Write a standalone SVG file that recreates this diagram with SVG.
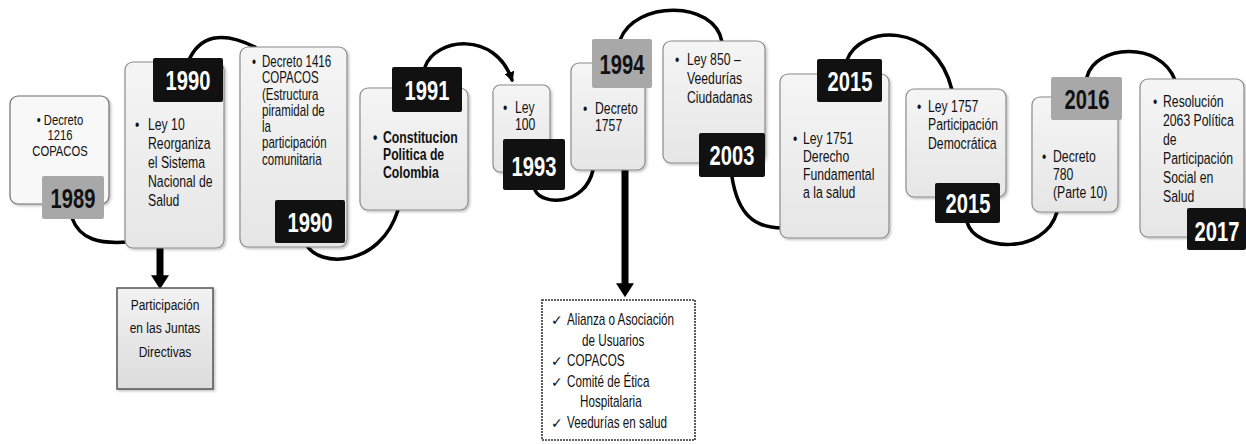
<svg xmlns="http://www.w3.org/2000/svg" width="1246" height="444" viewBox="0 0 1246 444">
<style>
.bx{fill:url(#gb);stroke:#8c8c8c;stroke-width:1.2;filter:url(#sh)}
.b1{fill:#f8f8f8;stroke:#6e6e6e;stroke-width:1.2;filter:url(#sh)}
.yb{fill:#111}
.yg{fill:#a8a8a8}
.t{font-family:"Liberation Sans",Arial,sans-serif;font-size:17px;fill:#111}
.s16{font-size:16px}
.s15{font-size:15px}
.bd{font-weight:bold}
.yt{font-family:"Liberation Sans",Arial,sans-serif;font-weight:bold;font-size:28px;text-anchor:middle}
.w{fill:#fff}
.k{fill:#111}
.c{fill:none;stroke:#000;stroke-width:3.5;stroke-linecap:round}
.ta{fill:none;stroke:#000;stroke-width:7}
.ca{font-family:"Liberation Sans",Arial,sans-serif;font-size:15px;fill:#111}
.cb{font-family:"Liberation Sans",Arial,sans-serif;font-size:16px;fill:#111}
.ck{font-family:"DejaVu Sans",sans-serif;font-size:14px;fill:#111}
</style>
<defs>
<linearGradient id="gb" x1="0" y1="0" x2="0" y2="1"><stop offset="0" stop-color="#f5f5f5"/><stop offset="1" stop-color="#e6e6e6"/></linearGradient>
<linearGradient id="ga" x1="0" y1="0" x2="0" y2="1"><stop offset="0" stop-color="#f2f2f2"/><stop offset="1" stop-color="#dcdcdc"/></linearGradient>
<filter id="sh" x="-10%" y="-10%" width="130%" height="130%"><feDropShadow dx="1.5" dy="1.5" stdDeviation="1.2" flood-color="#000" flood-opacity="0.25"/></filter>
<marker id="ah" viewBox="0 0 10 10" refX="8" refY="5" markerWidth="10" markerHeight="10" markerUnits="userSpaceOnUse" orient="auto"><path d="M0,0 L10,5 L0,10 z" fill="#000"/></marker>
<marker id="bh" viewBox="0 0 10 10" refX="2" refY="5" markerWidth="14" markerHeight="18" markerUnits="userSpaceOnUse" orient="auto" preserveAspectRatio="none"><path d="M0,0 L10,5 L0,10 z" fill="#000"/></marker>
</defs>
<rect width="1246" height="444" fill="#fff"/>

<g id="connectors">
<path class="c" d="M72 218 C80 240 100 244 128 242"/>
<path class="c" d="M188 62 Q205 22 255 47"/>
<path class="c" d="M306 244 C318 268 380 268 398 210"/>
<path class="c" d="M425 67 C435 38 495 30 512 80" marker-end="url(#ah)"/>
<path class="c" d="M535 190 C542 206 585 206 593 170"/>
<path class="c" d="M620 40 C635 0 715 0 722 42"/>
<path class="c" d="M732 177 C738 215 755 228 782 228"/>
<path class="c" d="M847 60 C860 25 935 20 952 90"/>
<path class="c" d="M967 222 C975 252 1045 255 1057 212"/>
<path class="c" d="M1087 77 C1095 45 1160 40 1175 80"/>
<path class="ta" d="M160 248 L160 278" marker-end="url(#bh)"/>
<path class="ta" d="M625 170 L625 286" marker-end="url(#bh)"/>
</g>

<g id="n1989">
<rect class="b1" x="10" y="96" width="99" height="108" rx="8"/>
<text class="t s15" text-anchor="middle" transform="translate(60,125) scale(0.75,1)">• Decreto<tspan x="0" dy="15.5">1216</tspan><tspan x="0" dy="15.5">COPACOS</tspan></text>
<rect class="yg" x="42" y="176" width="62" height="43" rx="2"/>
<text class="yt k" transform="translate(73,207.5) scale(0.72,1)">1989</text>
</g>

<g id="n1990a">
<rect class="bx" x="125" y="62" width="99" height="186" rx="8"/>
<text class="t" transform="translate(135,130) scale(0.72,1)">•</text>
<text class="t" transform="translate(148,130) scale(0.72,1)">Ley 10<tspan x="0" dy="19">Reorganiza</tspan><tspan x="0" dy="19">el Sistema</tspan><tspan x="0" dy="19">Nacional de</tspan><tspan x="0" dy="19">Salud</tspan></text>
<rect class="yb" x="153" y="58" width="70" height="44" rx="2"/>
<text class="yt w" transform="translate(188,90) scale(0.72,1)">1990</text>
</g>

<g id="n1990b">
<rect class="bx" x="240" y="47" width="107" height="200" rx="8"/>
<text class="t s16" transform="translate(252,67) scale(0.72,1)">•</text>
<text class="t s16" transform="translate(262,67) scale(0.72,1)">Decreto 1416<tspan x="0" dy="16.3">COPACOS</tspan><tspan x="0" dy="16.3">(Estructura</tspan><tspan x="0" dy="16.3">piramidal de</tspan><tspan x="0" dy="16.3">la</tspan><tspan x="0" dy="16.3">participación</tspan><tspan x="0" dy="16.3">comunitaria</tspan></text>
<rect class="yb" x="275" y="200" width="70" height="43" rx="2"/>
<text class="yt w" transform="translate(310,232) scale(0.72,1)">1990</text>
</g>

<g id="n1991">
<rect class="bx" x="360" y="88" width="108" height="122" rx="8"/>
<text class="t bd" transform="translate(373,143) scale(0.72,1)">•</text>
<text class="t bd" transform="translate(383,143) scale(0.72,1)">Constitucion<tspan x="0" dy="17.5">Politica de</tspan><tspan x="0" dy="17.5">Colombia</tspan></text>
<rect class="yb" x="392" y="67" width="70" height="45" rx="2"/>
<text class="yt w" transform="translate(427,99.5) scale(0.72,1)">1991</text>
</g>

<g id="n1993">
<rect class="bx" x="493" y="85" width="57" height="87" rx="7"/>
<text class="t" transform="translate(503,113) scale(0.72,1)">•</text>
<text class="t" transform="translate(515,113) scale(0.72,1)">Ley<tspan x="0" dy="17">100</tspan></text>
<rect class="yb" x="503" y="139" width="62" height="51" rx="2"/>
<text class="yt w" transform="translate(534,176) scale(0.72,1)">1993</text>
</g>

<g id="n1994">
<rect class="bx" x="571" y="63" width="74" height="107" rx="8"/>
<text class="t" transform="translate(583,114) scale(0.72,1)">•</text>
<text class="t" transform="translate(595,114) scale(0.72,1)">Decreto<tspan x="0" dy="17">1757</tspan></text>
<rect class="yg" x="592" y="39" width="60" height="49" rx="2"/>
<text class="yt k" transform="translate(622,73.5) scale(0.72,1)">1994</text>
</g>

<g id="n2003">
<rect class="bx" x="663" y="41" width="102" height="122" rx="8"/>
<text class="t" transform="translate(675,65) scale(0.72,1)">•</text>
<text class="t" transform="translate(687,65) scale(0.72,1)">Ley 850 –<tspan x="0" dy="19">Veedurías</tspan><tspan x="0" dy="19">Ciudadanas</tspan></text>
<rect class="yb" x="699" y="133" width="66" height="44" rx="2"/>
<text class="yt w" transform="translate(732,165) scale(0.72,1)">2003</text>
</g>

<g id="n2015a">
<rect class="bx" x="780" y="74" width="109" height="164" rx="8"/>
<text class="t" transform="translate(793,144) scale(0.72,1)">•</text>
<text class="t" transform="translate(803,144) scale(0.72,1)">Ley 1751<tspan x="0" dy="18">Derecho</tspan><tspan x="0" dy="18">Fundamental</tspan><tspan x="0" dy="18">a la salud</tspan></text>
<rect class="yb" x="817" y="59" width="65" height="43" rx="2"/>
<text class="yt w" transform="translate(850,90.5) scale(0.72,1)">2015</text>
</g>

<g id="n2015b">
<rect class="bx" x="906" y="89" width="100" height="108" rx="8"/>
<text class="t" transform="translate(917,112) scale(0.72,1)">•</text>
<text class="t" transform="translate(928,112) scale(0.72,1)">Ley 1757<tspan x="0" dy="18.5">Participación</tspan><tspan x="0" dy="18.5">Democrática</tspan></text>
<rect class="yb" x="935" y="183" width="65" height="40" rx="2"/>
<text class="yt w" transform="translate(968,213) scale(0.72,1)">2015</text>
</g>

<g id="n2016">
<rect class="bx" x="1032" y="97" width="86" height="115" rx="8"/>
<text class="t" transform="translate(1042,162) scale(0.72,1)">•</text>
<text class="t" transform="translate(1053,162) scale(0.72,1)">Decreto<tspan x="0" dy="18">780</tspan><tspan x="0" dy="18">(Parte 10)</tspan></text>
<rect class="yg" x="1051" y="77" width="71" height="43" rx="2"/>
<text class="yt k" transform="translate(1087,108.5) scale(0.72,1)">2016</text>
</g>

<g id="n2017">
<rect class="bx" x="1140" y="79" width="104" height="158" rx="8"/>
<text class="t" transform="translate(1153,107) scale(0.72,1)">•</text>
<text class="t" transform="translate(1163,107) scale(0.72,1)">Resolución<tspan x="0" dy="19">2063 Política</tspan><tspan x="0" dy="19">de</tspan><tspan x="0" dy="19">Participación</tspan><tspan x="0" dy="19">Social en</tspan><tspan x="0" dy="19">Salud</tspan></text>
<rect class="yb" x="1187" y="208" width="59" height="42" rx="2"/>
<text class="yt w" transform="translate(1217,241) scale(0.72,1)">2017</text>
</g>

<g id="juntas">
<rect x="117" y="288" width="96" height="101" fill="url(#ga)" stroke="#555" stroke-width="1.5" filter="url(#sh)"/>
<text class="ca" text-anchor="middle" transform="translate(165,310) scale(0.8,1)">Participación<tspan x="0" dy="23.5">en las Juntas</tspan><tspan x="0" dy="23.5">Directivas</tspan></text>
</g>

<g id="organos">
<rect x="542" y="300" width="153" height="140" fill="#fff" stroke="#333" stroke-width="1.6" stroke-dasharray="2 1"/>
<text class="ck" x="551" y="325">✓</text>
<text class="ck" x="551" y="366">✓</text>
<text class="ck" x="551" y="386.5">✓</text>
<text class="ck" x="551" y="427.5">✓</text>
<text class="cb" transform="translate(567,325) scale(0.73,1)">Alianza o Asociación</text>
<text class="cb" transform="translate(582,345.5) scale(0.73,1)">de Usuarios</text>
<text class="cb" transform="translate(567,366) scale(0.73,1)">COPACOS</text>
<text class="cb" transform="translate(567,386.5) scale(0.73,1)">Comité de Ética</text>
<text class="cb" transform="translate(580,407) scale(0.73,1)">Hospitalaria</text>
<text class="cb" transform="translate(567,427.5) scale(0.73,1)">Veedurías en salud</text>
</g>
</svg>
